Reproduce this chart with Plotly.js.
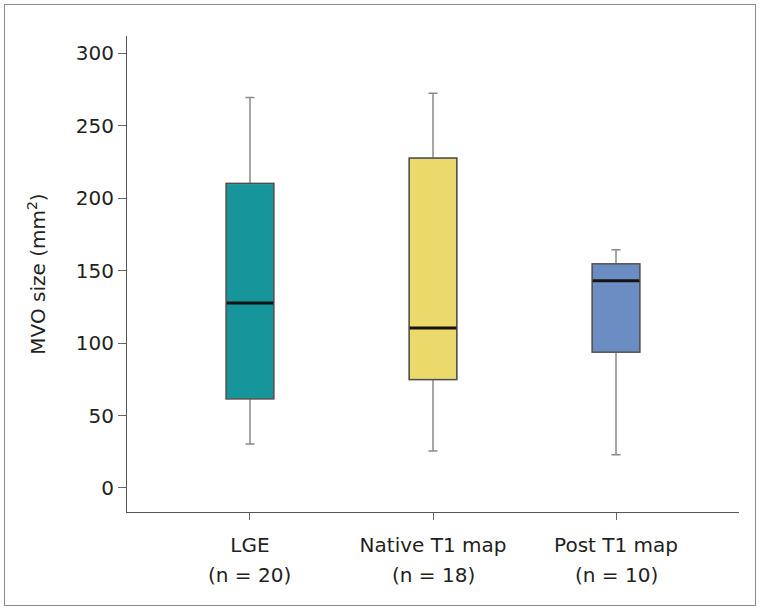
<!DOCTYPE html>
<html>
<head>
<meta charset="utf-8">
<script src="https://cdn.plot.ly/plotly-3.0.1.min.js"></script>
<style>
  html, body { margin: 0; padding: 0; background: #ffffff; }
  #frame { position: absolute; left: 4px; top: 4px; width: 750px; height: 600px; border: 1.5px solid #8c8c8c; }
  #chart { position: absolute; left: 0; top: 0; width: 761px; height: 612px; }
</style>
</head>
<body>
<div id="frame"></div>
<div id="chart"></div>
<script>
// Categories and sample sizes
const categories = ["LGE", "Native T1 map", "Post T1 map"];
const sampleSizes = [20, 18, 10];

// Box-plot statistics (MVO size, mm²)
const lowerWhisker = [30.4, 25.5, 23.0];
const q1Values     = [61.5, 74.8, 93.7];
const medians      = [127.7, 110.5, 143.0];
const q3Values     = [210.2, 227.7, 154.7];
const upperWhisker = [269.5, 272.5, 164.5];

const fillColors = ["#16969a", "#ebd96c", "#6c8cc4"];

// y-axis ticks
const yTicks = [0, 50, 100, 150, 200, 250, 300];

const FONT = "DejaVu Sans, Liberation Sans, sans-serif";
const FS = 20;
const BOX_W = 0.26;

const traces = [];
// whiskers + filled boxes
categories.forEach((c, i) => {
  traces.push({
    type: "box", x: [c],
    lowerfence: [lowerWhisker[i]], q1: [q1Values[i]], median: [medians[i]],
    q3: [q3Values[i]], upperfence: [upperWhisker[i]],
    fillcolor: fillColors[i],
    line: { color: "#8a8a8a", width: 1.5 },
    width: BOX_W, whiskerwidth: 0.19,
    boxpoints: false, hoverinfo: "skip", showlegend: false
  });
});
// darker box outlines
categories.forEach((c, i) => {
  traces.push({
    type: "box", x: [c],
    lowerfence: [q1Values[i]], q1: [q1Values[i]], median: [medians[i]],
    q3: [q3Values[i]], upperfence: [q3Values[i]],
    fillcolor: "rgba(0,0,0,0)",
    line: { color: "#4d4d4d", width: 1.3 },
    width: BOX_W, whiskerwidth: 0,
    boxpoints: false, hoverinfo: "skip", showlegend: false
  });
});
// thick black median lines
categories.forEach((c, i) => {
  traces.push({
    type: "box", x: [c],
    lowerfence: [medians[i]], q1: [medians[i]], median: [medians[i]],
    q3: [medians[i]], upperfence: [medians[i]],
    fillcolor: "rgba(0,0,0,0)",
    line: { color: "#141414", width: 3 },
    width: BOX_W * 0.98, whiskerwidth: 0,
    boxpoints: false, hoverinfo: "skip", showlegend: false
  });
});

// second line of each category label: sample size
const nAnnotations = categories.map((c, i) => ({
  x: c, xref: "x", y: 0, yref: "paper",
  yanchor: "middle", yshift: -63, showarrow: false,
  text: "(n = " + sampleSizes[i] + ")",
  font: { family: FONT, size: FS, color: "#231f20" }
}));

const layout = {
  width: 761, height: 612,
  margin: { l: 127, r: 22, t: 36, b: 100 },
  paper_bgcolor: "rgba(0,0,0,0)",
  plot_bgcolor: "rgba(0,0,0,0)",
  boxmode: "overlay",
  showlegend: false,
  font: { family: FONT, size: FS, color: "#231f20" },
  annotations: nAnnotations,
  xaxis: {
    type: "category",
    categoryorder: "array", categoryarray: categories,
    tickvals: categories, ticktext: categories,
    range: [-0.672, 2.672],
    showline: true, linecolor: "#555555", linewidth: 1,
    ticks: "outside", ticklen: 7, tickcolor: "#666666", tickwidth: 1,
    showgrid: false, zeroline: false,
    tickfont: { family: FONT, size: FS, color: "#231f20" },
    ticklabelstandoff: 8
  },
  yaxis: {
    range: [-16.6, 312],
    tickvals: yTicks, ticktext: yTicks.map(String),
    showline: true, linecolor: "#555555", linewidth: 1,
    ticks: "outside", ticklen: 8, tickcolor: "#666666", tickwidth: 1,
    showgrid: false, zeroline: false,
    tickfont: { family: FONT, size: FS, color: "#231f20" },
    ticklabelstandoff: 0,
    title: { text: "MVO size (mm<sup>2</sup>)", font: { family: FONT, size: FS, color: "#231f20" }, standoff: 24 }
  }
};

Plotly.newPlot("chart", traces, layout, { displayModeBar: false, staticPlot: true });
</script>
</body>
</html>
